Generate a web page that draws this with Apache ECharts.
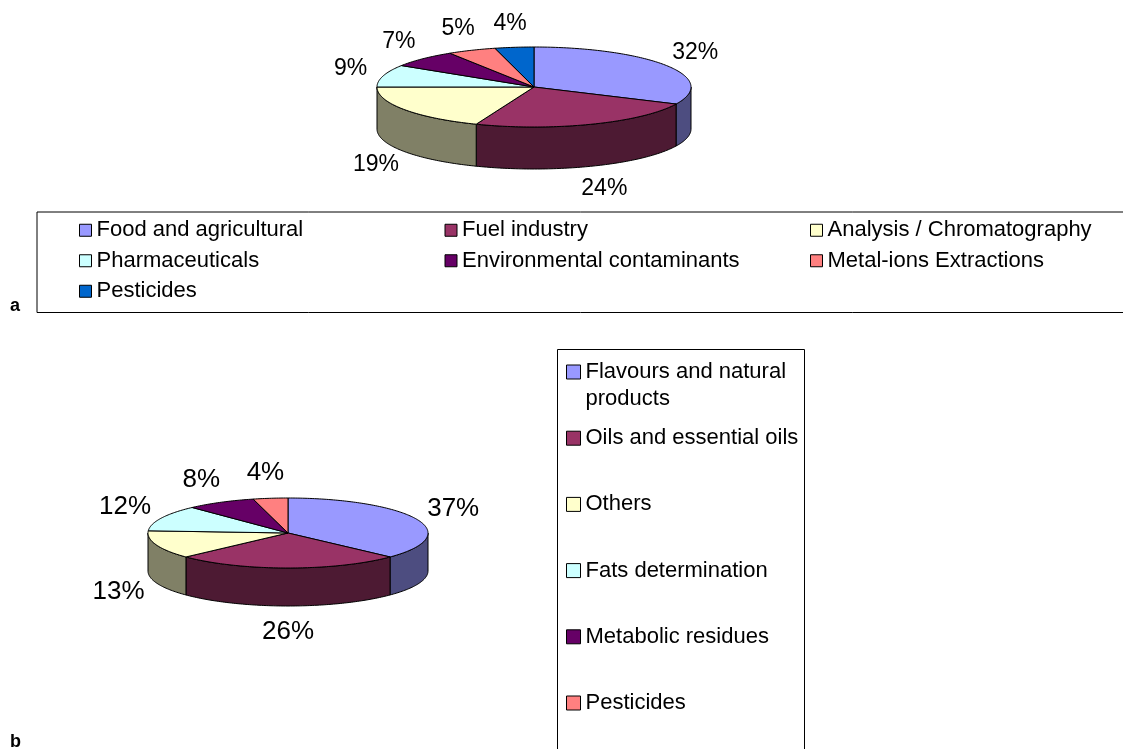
<!DOCTYPE html>
<html style="height: 100%">
<head>
    <meta charset="UTF-8">
    <title>Applications - tilted pie charts</title>
    <script src="https://cdn.jsdelivr.net/npm/echarts@6.0.0/dist/echarts.min.js"></script>
</head>
<body style="height: 100%; margin: 0; background: #fff">
    <div id="main" style="width: 1123px; height: 749px"></div>
    <script type="text/javascript">
        // chart a
        const namesA = ['Food and agricultural', 'Fuel industry', 'Analysis / Chromatography',
            'Pharmaceuticals', 'Environmental contaminants', 'Metal-ions Extractions', 'Pesticides'];
        const valuesA = [32, 24, 19, 9, 7, 5, 4];
        const colorsA = ['#9999FF', '#993366', '#FFFFCC', '#CCFFFF', '#660066', '#FF8080', '#0066CC'];

        // chart b
        const namesB = ['Flavours and natural\nproducts', 'Oils and essential oils', 'Others',
            'Fats determination', 'Metabolic residues', 'Pesticides'];
        const valuesB = [37, 26, 13, 12, 8, 4];
        const colorsB = ['#9999FF', '#993366', '#FFFFCC', '#CCFFFF', '#660066', '#FF8080'];

        const FONT = '"Liberation Sans", Arial, sans-serif';

        // where each tilted pie sits on the page
        const pieA = {values: valuesA, cx: 534, cy: 87, rx: 157, ry: 40, depth: 42, padX: 34, padY: 24, fontSize: 23};
        const pieB = {values: valuesB, cx: 288, cy: 533, rx: 140, ry: 35, depth: 38, padX: 40, padY: 26, fontSize: 26};

        function darker(hex) {
            const n = parseInt(hex.slice(1), 16);
            const r = (n >> 16) & 255, g = (n >> 8) & 255, b = n & 255;
            return 'rgb(' + Math.round(r / 2) + ',' + Math.round(g / 2) + ',' + Math.round(b / 2) + ')';
        }

        // angle in degrees, clockwise from 12 o'clock
        function pt(pie, deg, dy) {
            const a = deg * Math.PI / 180;
            return [pie.cx + pie.rx * Math.sin(a), pie.cy - pie.ry * Math.cos(a) + (dy || 0)];
        }

        function arc(pie, from, to, dy) {
            const pts = [];
            const n = Math.max(2, Math.ceil(Math.abs(to - from)));
            for (let i = 0; i <= n; i++) {
                pts.push(pt(pie, from + (to - from) * i / n, dy));
            }
            return pts;
        }

        function sliceSeries(pie, name, idx, color) {
            return {
                type: 'custom',
                name: name,
                coordinateSystem: 'none',
                itemStyle: {color: color},
                data: [[pie.values[idx]]],
                renderItem: function (params, api) {
                    const total = pie.values.reduce(function (s, v) { return s + v; }, 0);
                    let before = 0;
                    for (let i = 0; i < idx; i++) before += pie.values[i];
                    const start = before / total * 360;
                    const end = start + api.value(0) / total * 360;
                    const children = [];

                    // front wall, only the part facing us
                    const ws = Math.max(start, 90), we = Math.min(end, 270);
                    if (we > ws) {
                        const pts = arc(pie, ws, we, 0).concat(arc(pie, we, ws, pie.depth));
                        children.push({
                            type: 'polygon',
                            shape: {points: pts},
                            style: {fill: darker(color), stroke: '#000', lineWidth: 1}
                        });
                    }

                    const face = [[pie.cx, pie.cy]].concat(arc(pie, start, end, 0));
                    children.push({
                        type: 'polygon',
                        shape: {points: face},
                        style: {fill: color, stroke: '#000', lineWidth: 1}
                    });

                    const mid = (start + end) / 2 * Math.PI / 180;
                    const s = Math.sin(mid), c = Math.cos(mid);
                    children.push({
                        type: 'text',
                        x: pie.cx + (pie.rx + pie.padX) * s,
                        y: pie.cy - (pie.ry + pie.padY) * c + (c < 0 ? pie.depth : 0),
                        style: {
                            text: Math.round(api.value(0) / total * 100) + '%',
                            fontFamily: FONT,
                            fontSize: pie.fontSize,
                            fill: '#000',
                            align: 'center',
                            verticalAlign: 'middle'
                        }
                    });
                    return {type: 'group', children: children};
                }
            };
        }

        const series = [];
        namesA.forEach(function (n, i) { series.push(sliceSeries(pieA, n, i, colorsA[i])); });
        namesB.forEach(function (n, i) { series.push(sliceSeries(pieB, n, i, colorsB[i])); });

        var myChart = echarts.init(document.getElementById('main'));

        myChart.setOption({
            animation: false,
            backgroundColor: '#fff',
            title: [
                {text: 'a', left: 10, top: 297, padding: 0,
                    textStyle: {fontFamily: FONT, fontSize: 18, fontWeight: 'bold', color: '#000'}},
                {text: 'b', left: 10, top: 733, padding: 0,
                    textStyle: {fontFamily: FONT, fontSize: 18, fontWeight: 'bold', color: '#000'}}
            ],
            legend: [
                {
                    data: namesA.map(function (n, i) { return {name: n, itemStyle: {color: colorsA[i]}}; }),
                    orient: 'horizontal',
                    left: 37,
                    top: 212,
                    width: 1150,
                    padding: [3, 0, 6, 42],
                    itemGap: 0,
                    itemWidth: 12,
                    itemHeight: 12,
                    icon: 'rect',
                    selectedMode: false,
                    borderColor: '#000',
                    borderWidth: 1,
                    itemStyle: {borderColor: '#000', borderWidth: 1},
                    textStyle: {fontFamily: FONT, fontSize: 22, color: '#000', width: 348, lineHeight: 30.5}
                },
                {
                    data: namesB.map(function (n, i) { return {name: n, itemStyle: {color: colorsB[i]}}; }),
                    orient: 'vertical',
                    left: 566,
                    top: 331.5,
                    height: 418,
                    padding: 0,
                    itemGap: -14.8,
                    itemWidth: 14,
                    itemHeight: 14,
                    icon: 'rect',
                    selectedMode: false,
                    itemStyle: {borderColor: '#000', borderWidth: 1},
                    // keep the marker level with the first line of each name
                    formatter: function (n) { return '\n' + n + (n.indexOf('\n') < 0 ? '\n' : ''); },
                    textStyle: {fontFamily: FONT, fontSize: 22, color: '#000', lineHeight: 27}
                }
            ],
            graphic: [
                {
                    type: 'rect',
                    shape: {x: 557.5, y: 349.5, width: 247, height: 430},
                    style: {fill: 'none', stroke: '#000', lineWidth: 1}
                }
            ],
            series: series
        });
    </script>
</body>
</html>
